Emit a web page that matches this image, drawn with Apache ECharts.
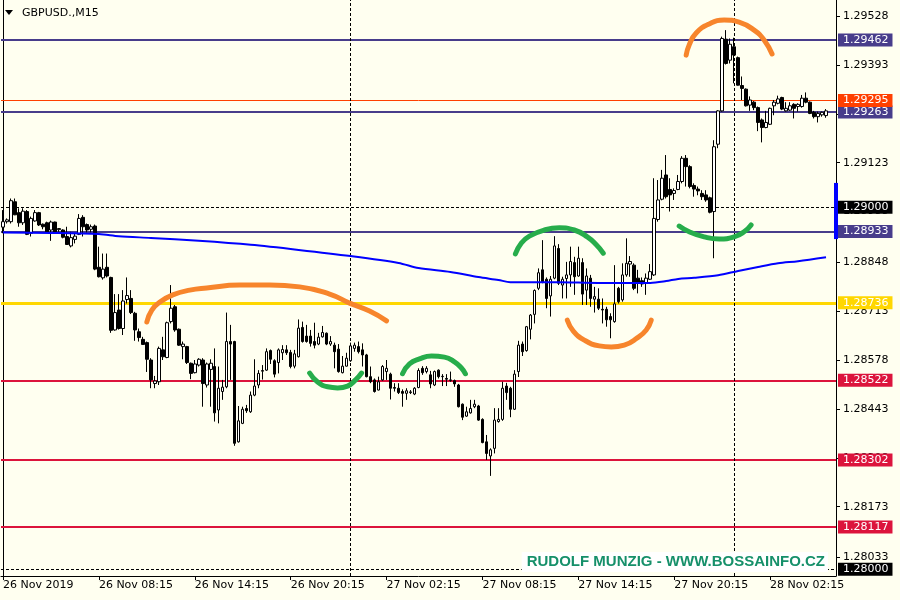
<!DOCTYPE html>
<html><head><meta charset="utf-8">
<script src="https://cdn.jsdelivr.net/npm/echarts@6/dist/echarts.min.js"></script>
<style>html,body{margin:0;padding:0;background:#FFFFF0}#c{width:900px;height:600px}</style>
</head><body><div id="c"></div>
<script>
const symbolTitle = 'GBPUSD.,M15';
const watermark = 'RUDOLF MUNZIG - WWW.BOSSAINFO.CZ';
const xTickLabels = ['26 Nov 2019','26 Nov 08:15','26 Nov 14:15','26 Nov 20:15','27 Nov 02:15','27 Nov 08:15','27 Nov 14:15','27 Nov 20:15','28 Nov 02:15'];
const yTickValues = [1.29528,1.29393,1.29258,1.29123,1.28988,1.28848,1.28713,1.28578,1.28443,1.28308,1.28173,1.28033];

const opens = [1.28945,1.28960,1.28960,1.29015,1.28985,1.28957,1.28988,1.28928,1.28962,1.28985,
1.28953,1.28957,1.28937,1.28959,1.28938,1.28937,1.28919,1.28893,1.28911,1.28925,
1.28972,1.28952,1.28939,1.28948,1.28834,1.28805,1.28834,1.28806,1.28661,1.28716,
1.28665,1.28745,1.28748,1.28707,1.28656,1.28635,1.28626,1.28578,1.28513,1.28518,
1.28606,1.28585,1.28684,1.28725,1.28663,1.28615,1.28615,1.28569,1.28543,1.28564,
1.28578,1.28509,1.28552,1.28560,1.28440,1.28491,1.28504,1.28629,1.28629,1.28352,
1.28403,1.28444,1.28435,1.28481,1.28509,1.28547,1.28550,1.28604,1.28576,1.28571,
1.28598,1.28606,1.28599,1.28561,1.28587,1.28668,1.28644,1.28644,1.28629,1.28622,
1.28642,1.28652,1.28622,1.28619,1.28608,1.28543,1.28561,1.28576,1.28610,1.28615,
1.28606,1.28592,1.28532,1.28523,1.28495,1.28523,1.28546,1.28539,1.28502,1.28500,
1.28491,1.28486,1.28488,1.28484,1.28502,1.28555,1.28546,1.28537,1.28509,1.28550,
1.28532,1.28527,1.28523,1.28521,1.28509,1.28456,1.28423,1.28432,1.28449,1.28451,
1.28414,1.28352,1.28313,1.28334,1.28408,1.28414,1.28506,1.28500,1.28442,1.28546,
1.28622,1.28604,1.28663,1.28704,1.28776,1.28827,1.28801,1.28755,1.28804,1.28886,
1.28785,1.28803,1.28813,1.28847,1.28810,1.28847,1.28771,1.28804,1.28746,1.28746,
1.28718,1.28718,1.28698,1.28684,1.28776,1.28744,1.28813,1.28843,1.28840,1.28804,
1.28797,1.28790,1.28801,1.28813,1.28966,1.29022,1.29089,1.29049,1.29038,1.29049,
1.29071,1.29135,1.29112,1.29060,1.29050,1.29038,1.29034,1.29026,1.28988,1.29174,
1.29266,1.29464,1.29406,1.29443,1.29413,1.29336,1.29326,1.29282,1.29290,1.29275,
1.29241,1.29220,1.29229,1.29280,1.29287,1.29303,1.29266,1.29268,1.29284,1.29278,
1.29278,1.29301,1.29290,1.29262,1.29250,1.29255,1.29253];

const highs = [1.28992,1.28969,1.29024,1.29024,1.28997,1.28997,1.28992,1.28974,1.28992,1.28987,
1.28955,1.28960,1.28963,1.28960,1.28942,1.28939,1.28946,1.28932,1.28928,1.28981,
1.28978,1.28955,1.28952,1.28952,1.28891,1.28872,1.28872,1.28808,1.28760,1.28760,
1.28771,1.28806,1.28771,1.28711,1.28665,1.28642,1.28629,1.28583,1.28534,1.28615,
1.28642,1.28684,1.28785,1.28730,1.28665,1.28629,1.28617,1.28571,1.28578,1.28583,
1.28583,1.28571,1.28580,1.28610,1.28560,1.28523,1.28709,1.28675,1.28631,1.28451,
1.28449,1.28454,1.28491,1.28580,1.28550,1.28564,1.28610,1.28607,1.28580,1.28610,
1.28619,1.28619,1.28606,1.28606,1.28690,1.28684,1.28675,1.28661,1.28681,1.28653,
1.28672,1.28654,1.28644,1.28626,1.28622,1.28589,1.28598,1.28626,1.28626,1.28629,
1.28624,1.28595,1.28560,1.28527,1.28532,1.28564,1.28578,1.28543,1.28514,1.28514,
1.28497,1.28500,1.28495,1.28503,1.28555,1.28561,1.28561,1.28548,1.28549,1.28552,
1.28539,1.28539,1.28546,1.28524,1.28512,1.28458,1.28449,1.28468,1.28468,1.28454,
1.28417,1.28371,1.28334,1.28445,1.28445,1.28518,1.28515,1.28504,1.28550,1.28631,
1.28629,1.28672,1.28705,1.28773,1.28831,1.28909,1.28806,1.28810,1.28920,1.28898,
1.28808,1.28849,1.28891,1.28863,1.28891,1.28859,1.28831,1.28813,1.28780,1.28776,
1.28748,1.28725,1.28707,1.28840,1.28780,1.28845,1.28914,1.28865,1.28845,1.28827,
1.28806,1.28817,1.28843,1.29080,1.29075,1.29103,1.29144,1.29080,1.29052,1.29089,
1.29141,1.29144,1.29116,1.29066,1.29057,1.29047,1.29047,1.29029,1.29185,1.29268,
1.29471,1.29489,1.29466,1.29468,1.29416,1.29361,1.29328,1.29306,1.29293,1.29278,
1.29245,1.29266,1.29275,1.29296,1.29308,1.29305,1.29290,1.29290,1.29287,1.29287,
1.29310,1.29317,1.29292,1.29266,1.29264,1.29264,1.29271];

const lows = [1.28928,1.28955,1.28955,1.28978,1.28946,1.28951,1.28923,1.28919,1.28960,1.28948,
1.28939,1.28930,1.28907,1.28928,1.28932,1.28914,1.28896,1.28889,1.28900,1.28923,
1.28919,1.28930,1.28930,1.28826,1.28806,1.28800,1.28806,1.28653,1.28659,1.28662,
1.28647,1.28734,1.28705,1.28631,1.28629,1.28620,1.28545,1.28500,1.28500,1.28509,
1.28578,1.28583,1.28679,1.28656,1.28617,1.28580,1.28567,1.28525,1.28541,1.28560,
1.28449,1.28502,1.28449,1.28408,1.28403,1.28468,1.28500,1.28523,1.28341,1.28350,
1.28401,1.28432,1.28432,1.28478,1.28500,1.28524,1.28548,1.28567,1.28530,1.28541,
1.28578,1.28592,1.28555,1.28555,1.28585,1.28626,1.28626,1.28615,1.28610,1.28619,
1.28640,1.28619,1.28617,1.28555,1.28543,1.28541,1.28560,1.28573,1.28601,1.28596,
1.28560,1.28530,1.28514,1.28488,1.28494,1.28521,1.28523,1.28469,1.28491,1.28484,
1.28449,1.28468,1.28484,1.28481,1.28500,1.28537,1.28541,1.28500,1.28506,1.28527,
1.28506,1.28506,1.28518,1.28504,1.28447,1.28412,1.28421,1.28430,1.28445,1.28410,
1.28348,1.28302,1.28258,1.28320,1.28405,1.28410,1.28468,1.28420,1.28440,1.28531,
1.28589,1.28601,1.28635,1.28679,1.28771,1.28790,1.28721,1.28698,1.28801,1.28785,
1.28748,1.28748,1.28780,1.28758,1.28808,1.28730,1.28730,1.28725,1.28709,1.28716,
1.28679,1.28670,1.28638,1.28681,1.28734,1.28739,1.28808,1.28808,1.28771,1.28762,
1.28780,1.28758,1.28799,1.28810,1.28960,1.29019,1.29024,1.28988,1.29020,1.29047,
1.29066,1.29057,1.29052,1.29029,1.29033,1.29020,1.29015,1.28983,1.28859,1.29163,
1.29264,1.29394,1.29397,1.29342,1.29336,1.29296,1.29278,1.29266,1.29268,1.29210,
1.29179,1.29218,1.29227,1.29254,1.29284,1.29268,1.29264,1.29266,1.29245,1.29264,
1.29275,1.29287,1.29257,1.29245,1.29234,1.29250,1.29247];

const closes = [1.28960,1.28965,1.29018,1.28979,1.28957,1.28989,1.28925,1.28969,1.28985,1.28951,
1.28946,1.28932,1.28959,1.28930,1.28941,1.28917,1.28897,1.28916,1.28920,1.28969,
1.28946,1.28937,1.28946,1.28829,1.28808,1.28829,1.28810,1.28660,1.28709,1.28665,
1.28741,1.28756,1.28709,1.28661,1.28640,1.28621,1.28580,1.28523,1.28520,1.28610,
1.28587,1.28681,1.28721,1.28661,1.28619,1.28622,1.28571,1.28541,1.28567,1.28580,
1.28513,1.28567,1.28569,1.28432,1.28500,1.28503,1.28629,1.28622,1.28348,1.28410,
1.28442,1.28438,1.28481,1.28506,1.28541,1.28549,1.28601,1.28580,1.28539,1.28606,
1.28607,1.28598,1.28560,1.28595,1.28666,1.28629,1.28629,1.28624,1.28619,1.28641,
1.28654,1.28622,1.28629,1.28601,1.28546,1.28561,1.28583,1.28617,1.28619,1.28601,
1.28592,1.28532,1.28518,1.28491,1.28518,1.28560,1.28555,1.28500,1.28500,1.28488,
1.28486,1.28493,1.28490,1.28500,1.28549,1.28543,1.28555,1.28512,1.28546,1.28532,
1.28533,1.28525,1.28522,1.28512,1.28449,1.28420,1.28435,1.28444,1.28456,1.28412,
1.28350,1.28320,1.28330,1.28412,1.28414,1.28500,1.28488,1.28442,1.28539,1.28619,
1.28601,1.28670,1.28702,1.28770,1.28819,1.28792,1.28748,1.28801,1.28893,1.28790,
1.28801,1.28813,1.28850,1.28808,1.28859,1.28760,1.28810,1.28748,1.28753,1.28721,
1.28716,1.28689,1.28689,1.28733,1.28739,1.28813,1.28845,1.28850,1.28776,1.28790,
1.28788,1.28804,1.28822,1.28969,1.29020,1.29080,1.29029,1.29034,1.29046,1.29071,
1.29135,1.29112,1.29057,1.29050,1.29045,1.29029,1.29020,1.28986,1.29167,1.29266,
1.29466,1.29397,1.29450,1.29420,1.29337,1.29328,1.29280,1.29296,1.29275,1.29234,
1.29220,1.29234,1.29273,1.29290,1.29299,1.29271,1.29273,1.29280,1.29273,1.29284,
1.29301,1.29290,1.29259,1.29250,1.29259,1.29262,1.29266];

// moving average, read at selected bars
const maBars   = [0,12,24,29,37,49,62,74,87,99,104,112,119,124,127,139,149,162,166,169,173,179,184,189,194,199,206];
const maValues = [1.28930,1.28929,1.28926,1.28920,1.28915,1.28907,1.28896,1.28882,1.28865,1.28846,1.28832,1.28821,1.28807,1.28799,1.28793,1.28793,1.28791,1.28791,1.28796,1.28802,1.28805,1.28812,1.28824,1.28835,1.28845,1.28851,1.28862];

const levelsNavy = [1.29462, 1.29263, 1.28933];
const levelsGold = [1.28736];
const levelsRed = [1.28522, 1.28302, 1.28117];
const bidLevel = 1.29295;
const roundLevels = [1.29000, 1.28000];
const daySeparatorBars = [87, 183];
const marginBarRange = [1.28912, 1.29067];

// hand-drawn annotation arcs: bar positions and prices
const arcOrange1Bars = [36,37.25,39.25,42.5,46.75,51,59.25,66.75,74.25,81.75,86.75,91.75,96];
const arcOrange1Prices = [1.28683,1.28716,1.28738,1.28758,1.28771,1.28777,1.28785,1.28785,1.28780,1.28760,1.28735,1.28713,1.28686];
const arcGreen1Bars = [76.75,78.75,81.25,83.75,86.25,88.25,89.75];
const arcGreen1Prices = [1.28542,1.28517,1.28504,1.28501,1.28506,1.28523,1.28542];
const arcGreen2Bars = [100,101.75,104.25,107.25,110.5,113,114.75,115.75];
const arcGreen2Prices = [1.28540,1.28567,1.28581,1.28589,1.28586,1.28573,1.28556,1.28540];
const arcGreen3Bars = [128.25,129.75,131.75,135.5,139.25,143,146.25,148.5,150.25];
const arcGreen3Prices = [1.28871,1.28901,1.28920,1.28937,1.28943,1.28937,1.28918,1.28896,1.28873];
const arcOrange2Bars = [141.25,142.75,145.5,149.25,152.25,155.5,158.75,161,162.25];
const arcOrange2Prices = [1.28688,1.28658,1.28633,1.28617,1.28614,1.28619,1.28639,1.28661,1.28688];
const arcGreen4Bars = [169.25,171.75,175.5,179.25,183,185.5,187.25];
const arcGreen4Prices = [1.28948,1.28932,1.28918,1.28912,1.28918,1.28932,1.28951];
const arcOrange3Bars = [171,171.75,173.5,176.75,180.5,184.25,188,190.5,192.5];
const arcOrange3Prices = [1.29420,1.29448,1.29481,1.29506,1.29517,1.29511,1.29489,1.29462,1.29423];

const FONT = 'DejaVu Sans';
const N = 209;
const categories = Array.from({length: N}, (_, i) => 'bar' + i);
const candleData = opens.map((o, i) => [o, closes[i], lows[i], highs[i]]);
const YMIN = 1.279815, YMAX = 1.295722;

const ORANGE = '#F7852C', GREEN = '#27AD4B';
const arcs = [
  [arcOrange1Bars, arcOrange1Prices, ORANGE],
  [arcGreen1Bars, arcGreen1Prices, GREEN],
  [arcGreen2Bars, arcGreen2Prices, GREEN],
  [arcGreen3Bars, arcGreen3Prices, GREEN],
  [arcOrange2Bars, arcOrange2Prices, ORANGE],
  [arcGreen4Bars, arcGreen4Prices, GREEN],
  [arcOrange3Bars, arcOrange3Prices, ORANGE]
];

function lvl(v, color, width, type, bg) {
  return {
    yAxis: v,
    lineStyle: {color: color, width: width, type: type},
    label: {
      show: true, position: 'end', distance: 2,
      formatter: v.toFixed(5),
      backgroundColor: bg, color: '#FFFFFF',
      padding: [1, 4, 0, 5], fontSize: 11, lineHeight: 12, fontFamily: FONT
    }
  };
}

const markData = [];
roundLevels.forEach(v => markData.push(lvl(v, '#000000', 1, [3, 2], '#000000')));
levelsNavy.forEach(v => markData.push(lvl(v, '#483D8B', 2, 'solid', '#483D8B')));
levelsGold.forEach(v => markData.push(lvl(v, '#FFD700', 3, 'solid', '#FFD700')));
levelsRed.forEach(v => markData.push(lvl(v, '#DC143C', 2, 'solid', '#DC143C')));
markData.push(lvl(bidLevel, '#FF4000', 1, 'solid', '#FF4000'));
daySeparatorBars.forEach(b => markData.push({
  xAxis: b, lineStyle: {color: '#000000', width: 1, type: [3, 2]}, label: {show: false}
}));

const chart = echarts.init(document.getElementById('c'));
const series = [
  {
    type: 'candlestick', data: candleData, xAxisIndex: 0, yAxisIndex: 0, z: 3,
    barWidth: 3, silent: true,
    itemStyle: {color: '#FFFFFF', color0: '#000000', borderColor: '#000000', borderColor0: '#000000', borderWidth: 1}
  },
  {
    type: 'line', xAxisIndex: 1, yAxisIndex: 0, z: 4, silent: true,
    data: maBars.map((b, i) => [b, maValues[i]]),
    symbol: 'none', smooth: 0.3,
    lineStyle: {color: '#0000FF', width: 2},
    markLine: {
      silent: true, symbol: 'none', animation: false, z: 1, precision: 5,
      emphasis: {disabled: true},
      data: markData
    }
  }
];
arcs.forEach(a => series.push({
  type: 'line', xAxisIndex: 1, yAxisIndex: 0, z: 5, silent: true,
  data: a[0].map((b, i) => [b, a[1][i]]),
  symbol: 'none', smooth: 0.5,
  lineStyle: {color: a[2], width: 5, cap: 'round', join: 'round'}
}));

chart.setOption({
  animation: false,
  backgroundColor: '#FFFFF0',
  grid: {left: 1, top: 0, width: 835, height: 576, containLabel: false},
  xAxis: [
    {
      type: 'category', data: categories, boundaryGap: true,
      axisLine: {show: true, lineStyle: {color: '#000', width: 1}},
      axisTick: {show: true, alignWithLabel: true, length: 4, interval: (i) => i % 24 === 0, lineStyle: {color: '#000'}},
      axisLabel: {
        interval: (i) => i % 24 === 0,
        formatter: (v, i) => xTickLabels[i / 24] || '',
        align: 'left', margin: 4, color: '#000', fontSize: 11, fontFamily: FONT
      },
      splitLine: {show: false}
    },
    {type: 'value', min: -0.5, max: N - 0.5, show: false}
  ],
  yAxis: [
    {
      type: 'value', position: 'right', min: YMIN, max: YMAX,
      axisLine: {show: true, onZero: false, lineStyle: {color: '#000', width: 1}},
      axisTick: {show: true, length: 4, customValues: yTickValues, lineStyle: {color: '#000'}},
      axisLabel: {customValues: yTickValues, formatter: (v) => v.toFixed(5), margin: 7, color: '#000', fontSize: 11, fontFamily: FONT},
      splitLine: {show: false}
    },
    {
      type: 'value', position: 'left', min: YMIN, max: YMAX, offset: -2,
      axisLine: {show: true, onZero: false, lineStyle: {color: '#000', width: 1}},
      axisTick: {show: false}, axisLabel: {show: false}, splitLine: {show: false}
    }
  ],
  series: series
});

const yTop = chart.convertToPixel({yAxisIndex: 0}, marginBarRange[1]);
const yBot = chart.convertToPixel({yAxisIndex: 0}, marginBarRange[0]);
const xRight = chart.convertToPixel({xAxisIndex: 1}, N - 0.5);

chart.setOption({
  graphic: [
    {type: 'polygon', shape: {points: [[5, 10], [13, 10], [9, 15]]}, style: {fill: '#000'}, z: 100},
    {type: 'text', x: 22, y: 13, style: {text: symbolTitle, font: '11px "DejaVu Sans"', fill: '#000', verticalAlign: 'middle'}, z: 100},
    {type: 'text', x: 828, y: 562, style: {
      text: watermark, font: 'bold 15px "Liberation Sans"', fill: '#16906A',
      align: 'right', verticalAlign: 'middle', backgroundColor: '#FFFFFF', padding: [3, 3, 2, 5]
    }, z: 100},
    {type: 'rect', shape: {x: xRight - 2, y: yTop, width: 4, height: yBot - yTop}, style: {fill: '#0000FF'}, z: 100}
  ]
});
</script>
</body></html>
